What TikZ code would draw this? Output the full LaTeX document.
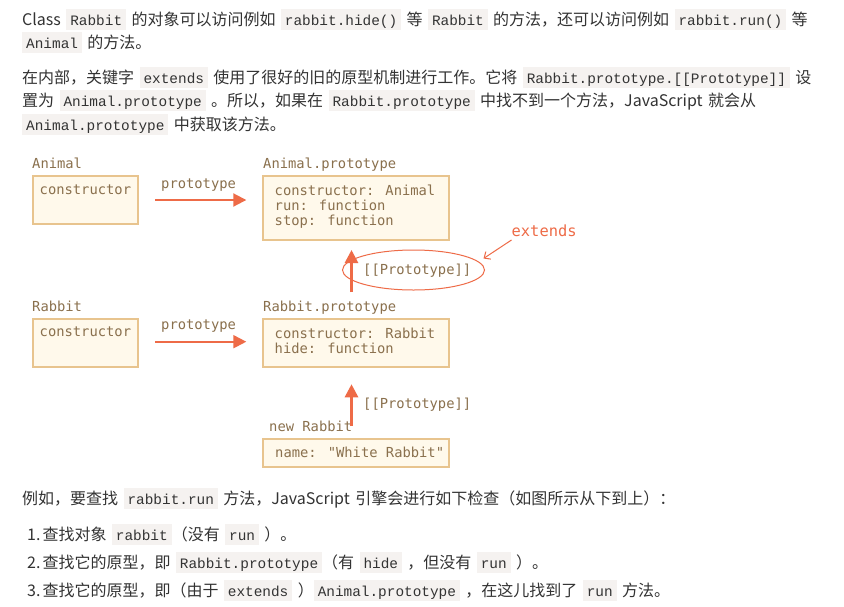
\documentclass[tikz,border=0pt]{standalone}
\usepackage{fontspec}
\setmainfont{Noto Sans CJK SC}[WordSpace=1.5]
\newfontfamily\codefont{Liberation Mono}[Ligatures=TeXOff]
\newfontfamily\diagfont{DejaVu Sans Mono}[Ligatures=TeXOff]
\usetikzlibrary{arrows.meta,positioning}

\definecolor{bodytext}{HTML}{333333}
\definecolor{codebg}{HTML}{F5F2F0}
\definecolor{boxfill}{HTML}{FFF9EB}
\definecolor{boxline}{HTML}{E8C48E}
\definecolor{diagtext}{HTML}{8A704D}
\definecolor{arrowred}{HTML}{EE6B47}

\newcommand{\codespan}[1]{{\setlength{\fboxsep}{0pt}\colorbox{codebg}{\hspace{4pt}\rule[-5pt]{0pt}{21pt}{\codefont\fontsize{14.4}{16}\selectfont #1}\hspace{4pt}}}}

\tikzset{
  textline/.style={anchor=base west, inner sep=0pt, text=bodytext, font=\fontsize{16}{24}\selectfont},
  objbox/.style={draw=boxline, fill=boxfill, line width=2pt, inner sep=0pt},
  diag/.style={anchor=base west, inner sep=0pt, text=diagtext, align=left, font=\diagfont\fontsize{13.8}{15}\selectfont},
  protoarrow/.style={draw=arrowred, line width=2pt, -{Triangle[length=13pt,width=13pt]}},
  uparrow/.style={draw=arrowred, line width=2.7pt, -{Triangle[length=13pt,width=13pt]}},
  thinred/.style={draw=arrowred, line width=1pt}
}

\begin{document}
\begin{tikzpicture}[x=1pt,y=-1pt]
  \fill[white] (0,0) rectangle (844,606);
  \useasboundingbox (0,0) rectangle (844,606);

  % text above
  \node[textline] (intro1) at (22,25) {Class \codespan{Rabbit} 的对象可以访问例如 \codespan{rabbit.hide()} 等 \codespan{Rabbit} 的方法，还可以访问例如 \codespan{rabbit.run()} 等};
  \node[textline] (intro2) at (22,48) {\codespan{Animal} 的方法。};
  \node[textline] (inner1) at (22,83) {在内部，关键字 \codespan{extends} 使用了很好的旧的原型机制进行工作。它将 \codespan{Rabbit.prototype.[[Prototype]]} 设};
  \node[textline] (inner2) at (22,106) {置为 \codespan{Animal.prototype} 。所以，如果在 \codespan{Rabbit.prototype} 中找不到一个方法，JavaScript 就会从};
  \node[textline] (inner3) at (22,130) {\codespan{Animal.prototype} 中获取该方法。};

  % Animal
  \node[diag] (animallbl) at (32,168.3) {Animal};
  \node[objbox, minimum width=105, minimum height=48] (animal) at (85.5,200) {};
  \node[diag] (animalctor) at (39.5,194.5) {constructor};
  \node[diag] (aprotolbl) at (263,168.3) {Animal.prototype};
  \node[objbox, minimum width=186, minimum height=64] (aproto) at (356.3,208) {};
  \node[diag] (aprotobody) at (274.5,225.7) {constructor: Animal\\run: function\\stop: function};
  \node[diag] (protolbl1) at (161,188.3) {prototype};
  \draw[protoarrow] ([xshift=16pt]animal.east) -- ([xshift=-16pt]animal.east -| aproto.west);

  % extends
  \draw[thinred] (413.5,270) ellipse [x radius=71pt, y radius=20pt];
  \node[diag] (link1) at (363,274.5) {[[Prototype]]};
  \node[diag, text=arrowred, font=\diagfont\fontsize{15.4}{16}\selectfont] (extends) at (511.5,236.5) {extends};
  \coordinate (ellipsehit) at (483.5,258.5);
  \draw[thinred, -{Straight Barb[length=5pt,width=9pt]}] ([yshift=-3.5pt]extends.base west) -- (ellipsehit);
  \coordinate (up1start) at (351.5,292);
  \draw[uparrow] (up1start) -- ([yshift=-9pt]aproto.south -| up1start);

  % Rabbit
  \node[diag] (rabbitlbl) at (32,311) {Rabbit};
  \node[objbox, minimum width=105, minimum height=48.5] (rabbit) at (85.5,343) {};
  \node[diag] (rabbitctor) at (39.5,336.7) {constructor};
  \node[diag] (rprotolbl) at (263,311.5) {Rabbit.prototype};
  \node[objbox, minimum width=186, minimum height=48.5] (rproto) at (356.3,343) {};
  \node[diag] (rprotobody) at (274.5,353.7) {constructor: Rabbit\\hide: function};
  \node[diag] (protolbl2) at (161,329.3) {prototype};
  \draw[protoarrow] ([xshift=16pt,yshift=1.3pt]rabbit.east) -- ([xshift=-16pt,yshift=1.3pt]rabbit.east -| rproto.west);

  % new Rabbit
  \node[diag] (link2) at (363,408.3) {[[Prototype]]};
  \node[diag] (newlbl) at (269,431) {new Rabbit};
  \node[objbox, minimum width=186, minimum height=28] (white) at (356.3,452.7) {};
  \node[diag] (whitebody) at (275,457.3) {name: "White Rabbit"};
  \coordinate (up2start) at (351.5,426);
  \draw[uparrow] (up2start) -- ([yshift=-16pt]rproto.south -| up2start);

  % text below
  \node[textline] (lookup) at (22,504) {例如，要查找 \codespan{rabbit.run} 方法，JavaScript 引擎会进行如下检查（如图所示从下到上）：};
  \node[textline] (step1) at (27,540) {1.\hspace{2pt}查找对象 \codespan{rabbit}（没有 \codespan{run} ）。};
  \node[textline] (step2) at (27,568) {2.\hspace{2pt}查找它的原型，即 \codespan{Rabbit.prototype}（有 \codespan{hide} ，但没有 \codespan{run} ）。};
  \node[textline] (step3) at (27,596) {3.\hspace{2pt}查找它的原型，即（由于 \codespan{extends} ）\codespan{Animal.prototype} ，在这儿找到了 \codespan{run} 方法。};
\end{tikzpicture}
\end{document}
